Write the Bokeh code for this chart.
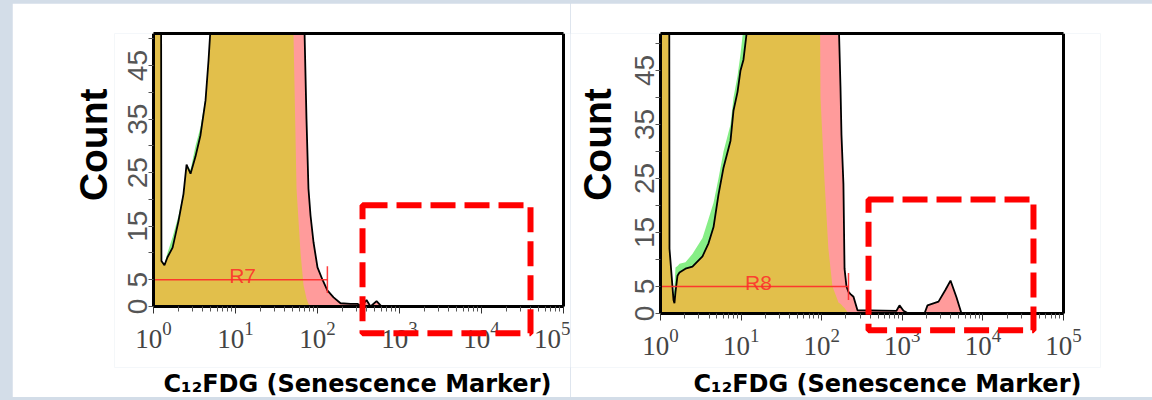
from math import pi
from bokeh.plotting import figure
from bokeh.layouts import row, column
from bokeh.models import (Range1d, FixedTicker, BoxAnnotation, Label, LogTickFormatter,
                          LinearAxis, LogAxis, Title, Spacer)
from bokeh.embed import file_html
from bokeh.resources import INLINE

# ---------------- data ----------------
# left panel: C12FDG intensity channels, control (green) and sample (red, black outline)
left_x = [1.0, 1.2, 1.25, 1.36, 1.48, 1.71, 2.02, 2.32, 2.53, 2.83, 3.25, 3.74, 4.31, 4.69, 5.1,
          46.9, 49.6, 55.5, 62.1, 67.5, 73.4, 77.6, 82.2, 89.4, 100, 115, 132, 157, 191, 252,
          307, 344, 396, 443, 525, 603, 100000]
left_control = [200, 200, 8.5, 8.0, 10, 13, 17, 21.5, 26.5, 25.5, 30, 33.5, 39, 46, 55,
                200, 60, 22, 10, 4, 1.5, 0.5, 0, 0, 0, 0, 0, 0, 0, 0,
                0, 0, 0, 0, 0, 0, 0]
left_sample = [200, 200, 8.5, 7.7, 9.2, 11, 16, 21, 26.5, 24.8, 28, 32, 38.5, 46, 55,
               200, 200, 200, 200, 60, 35, 22, 17, 12, 7.3, 5, 3, 1.7, 0.6, 0.5,
               0.5, 0, 1.2, 0, 1.0, 0, 0]

# right panel
right_x = [1.0, 1.187, 1.257, 1.293, 1.45, 1.49, 1.535, 1.625, 1.672, 1.72, 2.04, 2.49, 3.32,
           3.94, 4.55, 5.24, 6.05, 7.39, 8.05, 9.02, 9.83, 10.7, 12.4, 83.8, 96.6, 108, 121,
           136, 162, 171, 176, 186, 192, 203, 215, 228, 248, 278, 847, 923, 1035, 1194, 1885,
           2054, 2813, 3436, 3964, 4700, 5425, 100000]
right_control = [200, 200, 200, 12, 3, 5, 8.5, 8.8, 9.0, 9.2, 9.5, 11, 14,
                 17.5, 20.5, 25, 30, 35, 40, 44, 48, 53, 60, 200, 40, 25, 12,
                 5, 2, 1.8, 1.6, 1.2, 1.0, 0.5, 0, 0, 0, 0, 0, 0, 0, 0, 0,
                 0, 0, 0, 0, 0, 0, 0]
right_sample = [200, 200, 200, 12, 2.5, 1.9, 4, 7, 7.3, 7.6, 8.3, 8.7, 10.6,
                13, 16, 22, 27, 32, 37.6, 41, 45, 47, 55, 200, 200, 200, 200,
                200, 55, 42, 33, 24, 8.3, 5, 4, 3.6, 3.1, 0.6, 0.5, 1.5, 0.5, 0, 0,
                1.5, 2.2, 4.4, 6.1, 3, 0, 0]

x_ticks = [1, 10, 100, 1000, 10000, 100000]
y_ticks = [0, 5, 15, 25, 35, 45]
y_minor_ticks = [10, 20, 30, 40, 50]
y_max = [51, 51.85]

gate_names = ["R7", "R8"]
gate_level = 5
gate_end = [132, 215]
gate_tick = [2.5, 7.5]
gate_label_x = [12.2, 16.4]
gate_label_y = 5.8

# dashed highlight boxes: [left, right, bottom, top] in data units
hl_left = [354, 39600, -5.0, 18.9]
hl_right = [381, 42400, -3.1, 21.1]

x_title = "C\u2081\u2082FDG (Senescence  Marker)"
y_title = "Count"

GREEN = "#86ee86"
PINK = "#ff9b9b"
GOLD = "#e2bf4b"
RED = "#ff2a2a"
BLUE_BG = "#d3dde8"

# layout (pixels). The plotting frame is wider/taller than the drawn box so that the
# axes (placed at x=1 and count=0) and their labels are not clipped.
FIG_H = 394
BORDER_T = 30
BORDER_B = 30
COUNT_FONT = "39px"
panels = [
    dict(w=558, bl=102, br=0, xlim=(10 ** -0.4756, 10 ** 5.0854), floor=-11.40, xt_off=49),
    dict(w=582, bl=0, br=52, xlim=(10 ** -1.1166, 10 ** 5.459), floor=-10.0, xt_off=123),
]
COUNT_OFF = 55          # left panel: title end below the frame top
COUNT_RIGHT = (27, 169)  # right panel: label centre, px from frame left / above count 0


def make_panel(x, control, sample, ymax, idx, hl):
    g = panels[idx]
    p = figure(width=g["w"], height=FIG_H, x_axis_type="log",
               x_range=Range1d(*g["xlim"]), y_range=Range1d(g["floor"], ymax),
               output_backend="svg", toolbar_location=None, title=None,
               min_border_left=g["bl"], min_border_right=g["br"],
               min_border_top=BORDER_T, min_border_bottom=BORDER_B)
    p.background_fill_color = "white"
    p.border_fill_color = "white"
    p.outline_line_color = None
    p.xgrid.visible = False
    p.ygrid.visible = False

    overlap = [min(a, b) for a, b in zip(control, sample)]
    p.varea(x=x, y1=0, y2=control, fill_color=GREEN)
    p.varea(x=x, y1=0, y2=sample, fill_color=PINK)
    p.varea(x=x, y1=0, y2=overlap, fill_color=GOLD)
    p.line(x, sample, line_color="black", line_width=1.8)

    # gate marker
    end = gate_end[idx]
    p.line([x_ticks[0], end], [gate_level, gate_level], line_color=RED, line_width=1.5, line_alpha=0.9)
    p.line([end, end], gate_tick, line_color=RED, line_width=1.5, line_alpha=0.9)
    p.add_layout(Label(x=gate_label_x[idx], y=gate_label_y, text=gate_names[idx],
                       text_align="center", text_baseline="middle",
                       text_color=RED, text_alpha=0.85, text_font="Liberation Sans",
                       text_font_size="21px"))

    # x axis sits at count 0
    xa = p.xaxis[0]
    xa.fixed_location = 0
    xa.bounds = (x_ticks[0], x_ticks[-1])
    xa.ticker = FixedTicker(ticks=x_ticks,
                            minor_ticks=[m * t for t in x_ticks[:-1] for m in range(2, 10)])
    xa.formatter = LogTickFormatter()
    xa.axis_line_width = 3
    xa.axis_line_color = "black"
    xa.major_tick_out = 7
    xa.major_tick_in = 0
    xa.minor_tick_out = 5
    xa.minor_tick_in = 0
    xa.major_tick_line_color = "#333333"
    xa.minor_tick_line_color = "#555555"
    xa.major_label_standoff = 9
    xa.major_label_text_font = "Liberation Serif"
    xa.major_label_text_font_size = "27px"
    xa.major_label_text_color = "#444444"

    # y axis sits at x = 1
    ya = p.yaxis[0]
    ya.fixed_location = x_ticks[0]
    ya.bounds = (0, ymax)
    ya.ticker = FixedTicker(ticks=y_ticks, minor_ticks=y_minor_ticks)
    ya.axis_line_width = 3
    ya.axis_line_color = "black"
    ya.major_tick_out = 5
    ya.major_tick_in = 0
    ya.minor_tick_out = 5
    ya.minor_tick_in = 0
    ya.major_tick_line_color = "#555555"
    ya.minor_tick_line_color = "#555555"
    ya.major_label_orientation = "vertical"
    ya.major_label_standoff = 1
    ya.major_label_text_font = "Liberation Sans"
    ya.major_label_text_font_size = "28px"
    ya.major_label_text_color = "#555555"

    # box border: top and right lines as bare axes
    top = LogAxis(ticker=FixedTicker(ticks=[]), bounds=(x_ticks[0], x_ticks[-1]),
                  axis_line_width=3, axis_line_color="black")
    p.add_layout(top, "above")
    right = LinearAxis(ticker=FixedTicker(ticks=[]), bounds=(0, ymax),
                       fixed_location=x_ticks[-1],
                       axis_line_width=3, axis_line_color="black")
    p.add_layout(right, "right")

    # dashed highlight region
    p.add_layout(BoxAnnotation(left=hl[0], right=hl[1], bottom=hl[2], top=hl[3],
                               fill_color=None, fill_alpha=0, line_color="#ff0000",
                               line_alpha=1, line_width=6, line_dash="25 9", level="overlay"))

    # titles
    if idx == 0:
        p.add_layout(Title(text=y_title, align="right", offset=COUNT_OFF, standoff=0,
                           text_font="Liberation Sans", text_font_style="bold",
                           text_font_size=COUNT_FONT, text_color="black"), "left")
    else:
        ppu = FRAME_PPU[idx]
        p.add_layout(Label(x=COUNT_RIGHT[0], x_units="screen", y=COUNT_RIGHT[1] / ppu,
                           text=y_title, angle=pi / 2, text_align="center",
                           text_baseline="middle", text_font="Liberation Sans",
                           text_font_style="bold", text_font_size=COUNT_FONT,
                           text_color="black"))
    p.add_layout(Title(text=x_title, align="left", offset=g["xt_off"], standoff=0,
                       vertical_align="bottom",
                       text_font="DejaVu Sans", text_font_style="bold",
                       text_font_size="24px", text_color="black"), "below")
    return p


FRAME_PPU = [5.353, 5.40]   # vertical pixels per count in each panel

p1 = make_panel(left_x, left_control, left_sample, y_max[0], 0, hl_left)
p2 = make_panel(right_x, right_control, right_sample, y_max[1], 1, hl_right)

layout = column(Spacer(width=1152, height=3),
                row(Spacer(width=12, height=FIG_H), p1, p2),
                Spacer(width=1152, height=3),
                styles={"background-color": BLUE_BG})
open("out.html", "w").write(file_html(layout, INLINE))
